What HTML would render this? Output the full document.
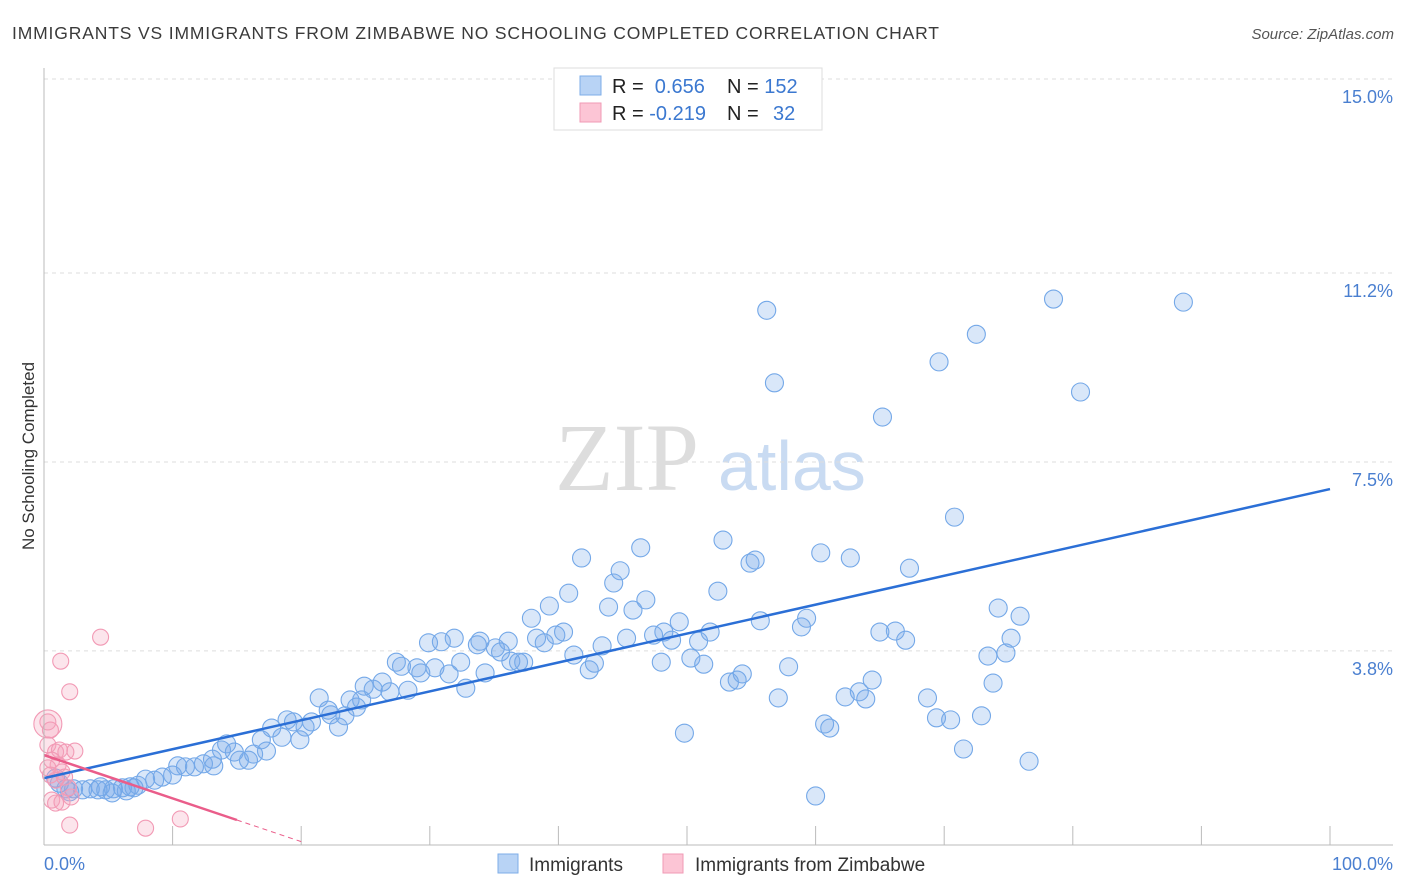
<!DOCTYPE html>
<html><head><meta charset="utf-8"><style>
body{margin:0;background:#fff;font-family:"Liberation Sans",sans-serif;}
#c{position:relative;width:1406px;height:892px;overflow:hidden}
</style></head><body>
<div id="c">
<svg id="s" width="1406" height="892" style="position:absolute;left:0;top:0">
<text x="12" y="39" font-size="17.5" fill="#3a3a3a" textLength="927">IMMIGRANTS VS IMMIGRANTS FROM ZIMBABWE NO SCHOOLING COMPLETED CORRELATION CHART</text>
<text x="1394" y="39" font-size="15" fill="#555" font-style="italic" text-anchor="end">Source: ZipAtlas.com</text>
<text x="555" y="490" font-size="96" fill="#ddd" font-family="Liberation Serif,serif">ZIP</text>
<text x="718" y="490" font-size="70" fill="#c9dbf2">atlas</text>
<text transform="translate(34,456) rotate(-90)" font-size="17" fill="#333" text-anchor="middle">No Schooling Completed</text>
<g id="grid"></g><g id="pts"></g><g id="lines"></g>
<line x1="44" y1="68" x2="44" y2="845" stroke="#bbb"/>
<line x1="44" y1="845" x2="1393" y2="845" stroke="#bbb"/>
<text x="44" y="870" font-size="18" fill="#4a7fd0">0.0%</text>
<text x="1393" y="870" font-size="18" fill="#4a7fd0" text-anchor="end">100.0%</text>
<g>
<rect x="554" y="68" width="268" height="62" fill="#fff" stroke="#ddd"/>
<rect x="580" y="76" width="21" height="19" fill="#b8d3f5" stroke="#7eaee8"/>
<rect x="580" y="103" width="21" height="19" fill="#fcc5d5" stroke="#f09ab5"/>
<text x="612" y="93" font-size="20" fill="#222">R = <tspan fill="#3b78d0">&#160;0.656</tspan><tspan x="727">N = </tspan><tspan fill="#3b78d0">152</tspan></text>
<text x="612" y="120" font-size="20" fill="#222">R = <tspan fill="#3b78d0">-0.219</tspan><tspan x="727">N = </tspan><tspan fill="#3b78d0" x="773">32</tspan></text>
</g>
<g>
<rect x="498" y="854" width="20" height="19" fill="#b8d3f5" stroke="#7eaee8"/>
<text x="529" y="871" font-size="19" fill="#333">Immigrants</text>
<rect x="663" y="854" width="20" height="19" fill="#fcc5d5" stroke="#f09ab5"/>
<text x="695" y="871" font-size="19" fill="#333">Immigrants from Zimbabwe</text>
</g>
</svg>
</div>
<script>
const yTicks=[3.8,7.5,11.2,15.0];
const xTicks=[10,20,30,40,50,60,70,80,90,100];
const blueX=[56.2,78.5,88.6,72.5,69.6,56.8,80.6,65.2,70.8,41.8,46.4,52.8,54.9,55.3,60.4,62.7,67.3,44.8,44.3,40.8,39.3,43.9,45.8,46.8,52.4,37.9,49.4,55.7,59.3,58.9,74.2,75.9,39.8,40.4,38.3,38.9,43.4,45.3,47.4,48.2,48.8,50.9,51.8,65.0,66.2,67.0,75.2,74.8,73.4,41.2,42.8,42.4,48.0,50.3,51.3,57.9,53.3,53.9,54.3,64.4,73.8,63.4,62.3,63.9,57.1,68.7,69.4,70.5,72.9,60.7,61.1,49.8,71.5,76.6,60.0,29.9,30.9,31.9,33.7,33.9,35.1,36.1,35.5,36.3,36.9,37.3,27.4,27.8,29.0,29.3,30.4,31.5,32.4,34.3,32.8,24.9,25.6,26.3,26.9,28.3,23.8,24.7,21.4,22.1,22.3,23.4,24.3,22.9,18.9,19.4,20.3,20.8,17.7,18.5,19.9,16.9,17.3,16.3,14.2,14.8,15.2,15.9,13.8,13.1,12.4,11.7,10.4,11.0,13.2,10.0,9.2,8.6,7.9,7.3,6.7,6.1,5.4,4.8,4.2,3.6,3.0,2.3,1.7,1.2,0.9,5.3,6.4,2.0,4.4,7.0];
const blueY=[10.47,10.69,10.63,10.0,9.46,9.05,8.87,8.38,6.42,5.62,5.82,5.97,5.52,5.58,5.72,5.62,5.42,5.37,5.13,4.93,4.68,4.66,4.60,4.80,4.97,4.44,4.37,4.39,4.44,4.27,4.64,4.48,4.11,4.17,4.05,3.96,3.90,4.05,4.11,4.17,4.01,3.99,4.17,4.17,4.19,4.01,4.05,3.76,3.70,3.72,3.56,3.43,3.58,3.66,3.54,3.49,3.19,3.23,3.35,3.23,3.17,3.00,2.90,2.86,2.88,2.88,2.49,2.45,2.53,2.37,2.29,2.19,1.88,1.64,0.96,3.96,3.98,4.05,3.92,3.99,3.86,3.99,3.78,3.60,3.58,3.58,3.58,3.50,3.47,3.37,3.47,3.35,3.58,3.37,3.07,3.11,3.05,3.19,3.00,3.03,2.84,2.84,2.88,2.64,2.55,2.53,2.70,2.31,2.45,2.41,2.31,2.41,2.29,2.11,2.06,2.06,1.84,1.78,1.98,1.82,1.66,1.66,1.86,1.68,1.59,1.53,1.55,1.53,1.55,1.37,1.33,1.27,1.29,1.17,1.14,1.12,1.10,1.08,1.08,1.10,1.08,1.10,1.10,1.21,1.31,1.02,1.06,1.04,1.14,1.12];
const pinkX=[4.4,1.3,2.0,0.3,0.5,0.3,0.9,1.2,1.7,2.4,0.6,1.1,1.4,0.5,0.9,1.6,0.3,0.6,0.9,1.4,2.1,1.9,2.0,7.9,10.6,0.3];
const pinkY=[4.07,3.60,3.00,2.41,2.25,1.96,1.82,1.86,1.82,1.84,1.66,1.57,1.43,1.37,1.27,1.33,1.51,0.88,0.82,0.84,0.94,1.12,0.39,0.33,0.51,2.37];
const blueTrend=[1.31,6.97];
const pinkTrend=[1.76,-0.0847];
const NS="http://www.w3.org/2000/svg";
const X=v=>44+v*12.86, Y=v=>845-v*51.07;
function mk(tag,attrs,parent){const e=document.createElementNS(NS,tag);for(const k in attrs)e.setAttribute(k,attrs[k]);parent.appendChild(e);return e;}
const grid=document.getElementById('grid'),pts=document.getElementById('pts'),lines=document.getElementById('lines'),svg=document.getElementById('s');
yTicks.forEach(t=>{
 const l=mk('line',{x1:44,x2:1393,y1:Y(t),y2:Y(t),stroke:'#ddd','stroke-dasharray':'4,4'},grid);
 
 
 const tx=mk('text',{x:1393,y:Y(t)+24,'font-size':18,fill:'#4a7fd0','text-anchor':'end'},svg);
 tx.textContent=t.toFixed(1)+'%';
 
 
});
xTicks.forEach(t=>{
 const l=mk('line',{x1:X(t),x2:X(t),y1:826,y2:845,stroke:'#bbb'},grid);
 
 
});
blueX.forEach((v,i)=>{
 const c=mk('circle',{cx:X(v),cy:Y(blueY[i]),r:9,fill:'rgba(120,170,235,0.28)',stroke:'#74a8e8','stroke-width':1.1},pts);
 
 
});
pinkX.forEach((v,i)=>{
 const c=mk('circle',{cx:X(v),cy:Y(pinkY[i]),r:i==pinkX.length-1?14:8,fill:'rgba(245,160,185,0.28)',stroke:'#f29ab5','stroke-width':1.1},pts);
 
 
});
const bl=mk('line',{x1:X(0),y1:Y(blueTrend[0]),x2:X(100),y2:Y(blueTrend[1]),stroke:'#2b6fd6','stroke-width':2.5},lines);


const pe=15,pd=20;
const pl=mk('line',{x1:X(0),y1:Y(pinkTrend[0]),x2:X(pe),y2:Y(pinkTrend[0]+pinkTrend[1]*pe),stroke:'#ea5d8a','stroke-width':2.5},lines);


const pdl=mk('line',{x1:X(pe),y1:Y(pinkTrend[0]+pinkTrend[1]*pe),x2:X(pd),y2:Y(pinkTrend[0]+pinkTrend[1]*pd),stroke:'#ea5d8a','stroke-width':1,'stroke-dasharray':'5,4'},lines);


</script>
</body></html>
